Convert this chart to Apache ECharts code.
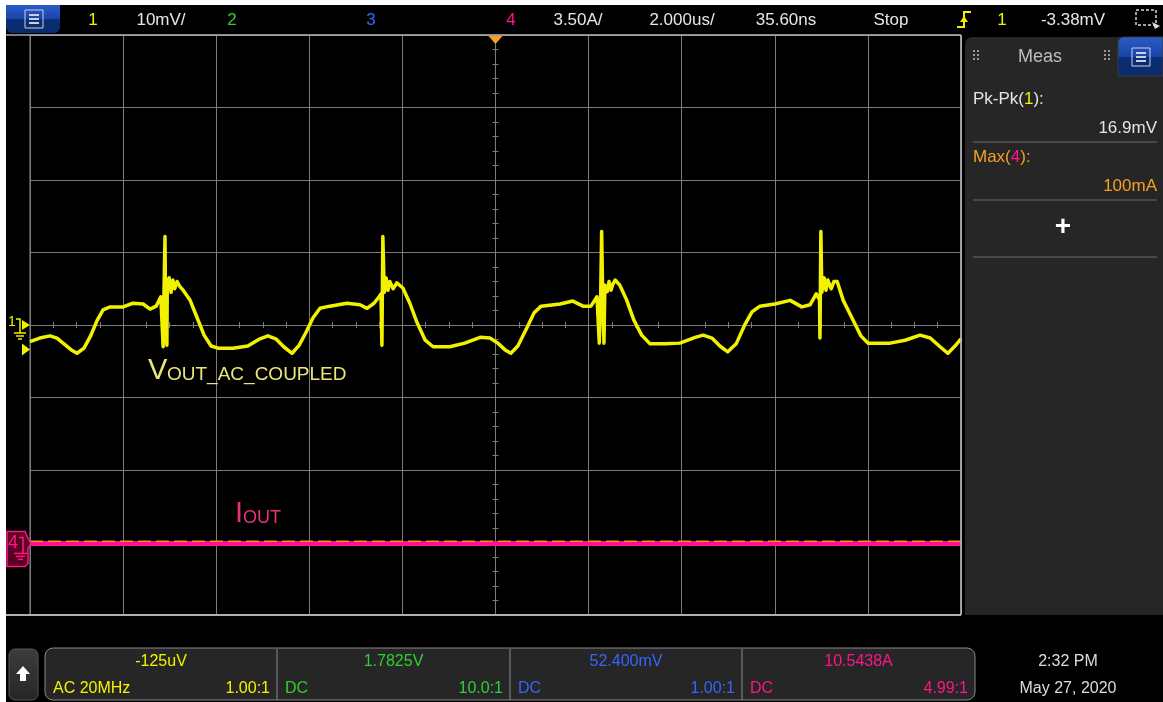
<!DOCTYPE html>
<html><head><meta charset="utf-8">
<script src="https://cdn.jsdelivr.net/npm/echarts@6/dist/echarts.min.js"></script>
<style>
html,body{margin:0;padding:0;background:#fff;overflow:hidden;}
#bg{position:absolute;left:6px;top:5px;width:1157px;height:697px;background:#000;}
#c{position:absolute;left:0;top:0;width:1163px;height:702px;}
</style>
</head><body><div id="bg"></div><div id="c"></div>
<script>
// ---- Channel 1 (VOUT, AC coupled), time in microseconds, value in mV ----
const timeUs = [
 -10.00,-9.79,-9.57,-9.42,-9.27,-9.12,-8.99,-8.84,-8.69,-8.56,-8.43,-8.28,-8.00,-7.79,-7.57,-7.42,-7.29,-7.19,
 -7.14,-7.12,-7.10,-7.09,-7.06,-7.05,-7.01,-6.97,-6.93,-6.89,-6.84,-6.78,-6.71,
 -6.56,-6.41,-6.26,-6.11,-5.96,-5.64,-5.32,-5.06,-4.89,-4.72,-4.55,-4.37,-4.22,-4.07,-3.92,-3.77,-3.56,-3.19,-2.91,-2.76,-2.61,-2.50,
 -2.46,-2.44,-2.42,-2.39,-2.35,-2.31,-2.27,-2.20,-2.12,-1.99,
 -1.84,-1.69,-1.51,-1.34,-0.98,-0.66,-0.33,-0.12,0.05,0.20,0.33,0.48,0.68,0.83,0.98,1.39,1.66,1.88,2.05,2.18,
 2.23,2.26,2.28,2.30,2.33,2.35,2.40,2.44,2.48,2.52,2.57,2.67,
 2.82,2.97,3.14,3.32,3.64,3.96,4.29,4.46,4.65,4.82,4.99,5.17,5.36,5.51,5.68,6.00,6.33,6.58,6.76,6.89,
 6.96,6.97,6.99,7.01,7.06,7.10,7.14,7.21,7.27,7.34,
 7.47,7.68,7.85,8.00,8.48,8.80,9.12,9.34,9.55,9.72,9.87,10.00];
const voutMv = [
 -2.3,-1.8,-1.5,-1.8,-2.6,-3.4,-3.9,-3.2,-1.4,0.6,2.1,2.5,2.5,3.0,2.9,2.2,2.6,3.9,
 -3.0,5.0,12.2,4.0,-2.8,6.0,6.5,4.5,6.2,5.0,6.0,5.3,4.8,
 3.4,1.0,-1.4,-2.9,-3.2,-3.2,-2.9,-1.9,-1.5,-1.9,-3.0,-3.9,-2.8,-1.0,1.0,2.3,2.6,3.0,2.8,2.3,3.0,3.9,
 4.3,-2.8,12.2,4.5,6.5,4.8,6.0,5.0,5.8,5.1,
 3.0,0.4,-2.1,-3.0,-3.0,-2.5,-1.7,-1.8,-2.5,-3.4,-3.9,-2.9,-0.3,1.7,2.6,2.9,3.3,2.6,2.6,3.9,
 -2.5,4.0,12.9,5.0,-2.5,5.5,4.6,6.0,4.8,5.6,6.2,5.5,
 3.4,0.7,-1.4,-2.6,-2.6,-2.5,-1.7,-1.4,-1.8,-2.9,-3.7,-2.6,0.1,1.8,2.6,2.9,3.4,2.5,2.8,4.3,
 3.5,-1.8,12.9,4.5,6.5,4.8,6.2,5.0,6.0,6.0,
 3.4,0.7,-1.5,-2.5,-2.5,-2.1,-1.4,-1.8,-3.0,-3.9,-2.9,-1.9];
// ---- Channel 4 (IOUT), time in microseconds, value in A ----
const ioutTimeUs = [-10,-9.3,-9.28,-7.3,-7.28,-5.4,-5.38,-2.4,-2.38,0.6,0.62,2.3,2.32,4.9,4.92,7.0,7.02,10];
const ioutA = [0,0,-0.07,0,-0.07,0,0.07,0,-0.07,0,0.07,0,-0.07,0,-0.07,0,0.07,0];
// ---- scope settings / readouts ----
const timePerDivUs = 2, hDivs = 10;
const ch1PerDivMv = 10, vDivs = 8;
const ch4PerDivA = 3.5, ch4OffsetA = 10.5438;
const triggerLevelMv = -3.38;
const ch4MaxA = 0.100;
const topBarLabels = ['1','10mV/','2','3','4','3.50A/','2.000us/','35.60ns','Stop','1','-3.38mV'];
const measLabels = ['Pk-Pk(1):','16.9mV','Max(4):','100mA'];
const chanOffsets = ['-125uV','1.7825V','52.400mV','10.5438A'];
const chanCoupling = ['AC 20MHz','DC','DC','DC'];
const chanProbe = ['1.00:1','10.0:1','1.00:1','4.99:1'];
const dateLabels = ['2:32 PM','May 27, 2020'];

const FONT = "'Liberation Sans', Arial, sans-serif";
const GRID = '#7c7c7c';
const YEL = '#f2f200', GRN = '#2fd02f', BLU = '#3366ff', MAG = '#ff148c', ORG = '#f5a020';

const chart = echarts.init(document.getElementById('c'), null, {renderer:'canvas'});
const halfT = timePerDivUs*hDivs/2, halfV = ch1PerDivMv*vDivs/2, halfA = ch4PerDivA*vDivs/2;

function xAx(pos){
  return {type:'value', min:-halfT, max:halfT, interval:timePerDivUs, position:pos,
    axisLine:{show:true, onZero:true, onZeroAxisIndex:0, lineStyle:{color:GRID, width:1}},
    axisTick:{show:true, length:3, lineStyle:{color:GRID}},
    minorTick:{show:true, splitNumber:4, length:3, lineStyle:{color:GRID}},
    axisLabel:{show:false},
    splitLine:{show:pos==='bottom', lineStyle:{color:GRID, width:1}}};
}
function yAx(pos){
  return {type:'value', min:-halfV, max:halfV, interval:ch1PerDivMv, position:pos,
    axisLine:{show:true, onZero:true, onZeroAxisIndex:0, lineStyle:{color:GRID, width:1}},
    axisTick:{show:true, length:3, lineStyle:{color:GRID}},
    minorTick:{show:true, splitNumber:5, length:3, lineStyle:{color:GRID}},
    axisLabel:{show:false},
    splitLine:{show:pos==='left', lineStyle:{color:GRID, width:1}}};
}

chart.setOption({
  animation:false,
  backgroundColor:'transparent',
  grid:{left:30, top:35, width:931, height:580, show:true, borderColor:'#8c8c8c', borderWidth:1, backgroundColor:'#000'},
  xAxis:[xAx('bottom'), xAx('top')],
  yAxis:[yAx('left'), yAx('right'),
    {type:'value', min:ch4OffsetA-halfA, max:ch4OffsetA+halfA, show:false, axisLine:{onZero:false}, splitLine:{show:false}}],
  series:[
    {type:'line', name:'IOUT', xAxisIndex:0, yAxisIndex:2, showSymbol:false, symbol:'none', z:3,
     data: ioutTimeUs.map((t,i)=>[t, ioutA[i]]), lineStyle:{color:MAG, width:5}},
    {type:'line', name:'Max(4)', xAxisIndex:0, yAxisIndex:2, showSymbol:false, symbol:'none', z:4,
     data:[[-halfT, ch4MaxA],[halfT, ch4MaxA]], lineStyle:{color:'#ff8a1a', width:1.5, type:[13,5]}},
    {type:'line', name:'VOUT', xAxisIndex:0, yAxisIndex:0, showSymbol:false, symbol:'none', z:5, sampling:null,
     data: timeUs.map((t,i)=>[t, voutMv[i]]), lineStyle:{color:YEL, width:3.5, join:'round'}}
  ]
});

// pixel anchors computed by the library's own scales
const yZero1 = chart.convertToPixel({yAxisIndex:0}, 0);
const yTrig = chart.convertToPixel({yAxisIndex:0}, triggerLevelMv);
const yZero4 = chart.convertToPixel({yAxisIndex:2}, 0);
const xTrig = chart.convertToPixel({xAxisIndex:0}, 0);

function txt(text, x, y, fill, size, align, extra){
  return Object.assign({type:'text', x:x, y:y, z:100, silent:true,
    style:{text:text, fill:fill, font:(size||17)+'px '+FONT, align:align||'center', verticalAlign:'middle',
      textAlign:align||'center', textVerticalAlign:'middle'}}, extra||{});
}
function line(x1,y1,x2,y2,stroke,w,extra){
  return {type:'line', z:100, silent:true, shape:{x1,y1,x2,y2}, style:Object.assign({stroke:stroke, lineWidth:w||1}, extra||{})};
}
function rect(x,y,w,h,fill,stroke,r,extra){
  return Object.assign({type:'rect', z:95, silent:true, shape:{x,y,width:w,height:h,r:r||0}, style:{fill:fill, stroke:stroke||null, lineWidth:1}}, extra||{});
}
function menuIcon(cx, cy){
  return [
    rect(cx-9, cy-9, 18, 18, null, '#c8d0e0', 0, {z:101}),
    line(cx-5, cy-4, cx+5, cy-4, '#c8d0e0', 2),
    line(cx-5, cy, cx+5, cy, '#c8d0e0', 2),
    line(cx-5, cy+4, cx+5, cy+4, '#c8d0e0', 2)
  ];
}
function dots(x, y){
  const out=[];
  for(let r=0;r<3;r++) for(let c=0;c<2;c++) out.push(rect(x+c*4, y+r*4, 2, 2, '#9a9a9a', null, 0, {z:101}));
  return out;
}
const blueGrad = {type:'linear', x:0, y:0, x2:0, y2:1, colorStops:[{offset:0,color:'#2a5cc8'},{offset:0.5,color:'#1a44a8'},{offset:0.52,color:'#0c2d74'},{offset:1,color:'#0a2a6a'}]};

const g = [];
// top bar
g.push(rect(6, 5, 54, 28, blueGrad, null, [0,0,6,6]));
g.push(...menuIcon(34, 19));
const topX = [93,161,232,371,511,578,682,786,891,1002,1073];
const topC = [YEL,'#e6e6e6',GRN,BLU,MAG,'#e6e6e6','#e6e6e6','#e6e6e6','#e6e6e6',YEL,'#e6e6e6'];
topBarLabels.forEach((s,i)=>g.push(txt(s, topX[i], 20, topC[i], 17)));
// trigger edge icon
g.push({type:'polyline', z:100, silent:true, shape:{points:[[957,27],[964,27],[964,12],[971,12]]}, style:{stroke:YEL, lineWidth:2, fill:null}});
g.push({type:'polygon', z:100, silent:true, shape:{points:[[960,22],[968,22],[964,16]]}, style:{fill:YEL}});
// zoom box icon
g.push(rect(1136, 10, 20, 15, null, '#d8d8d8', 0, {z:100, style:{fill:null, stroke:'#d8d8d8', lineWidth:1.5, lineDash:[3,2]}}));
g.push({type:'polygon', z:101, silent:true, shape:{points:[[1152,22],[1160,26],[1155,29]]}, style:{fill:'#d8d8d8'}});

// frame lines
g.push(line(6, 35, 961, 35, '#a8a8a8', 1.5));
g.push(line(6, 615, 961, 615, '#b0b0b0', 2));
g.push(line(961, 35, 961, 615, '#b8b8b8', 1.5));
// trigger position marker
g.push({type:'polygon', z:100, silent:true, shape:{points:[[xTrig-7,36],[xTrig+7,36],[xTrig,44]]}, style:{fill:ORG}});

// channel 1 marker and trigger level marker
g.push(txt('1', 12, yZero1-3, YEL, 14));
g.push({type:'polyline', z:100, silent:true, shape:{points:[[16,yZero1-6],[20,yZero1-6],[20,yZero1+8]]}, style:{stroke:YEL, lineWidth:1.5, fill:null}});
g.push(line(14, yZero1+8, 26, yZero1+8, YEL, 1.5));
g.push(line(16, yZero1+11, 24, yZero1+11, YEL, 1.5));
g.push(line(18, yZero1+14, 22, yZero1+14, YEL, 1.5));
g.push({type:'polygon', z:100, silent:true, shape:{points:[[22,yZero1-5],[30,yZero1],[22,yZero1+5]]}, style:{fill:YEL}});
g.push({type:'polygon', z:100, silent:true, shape:{points:[[22,yTrig-6],[30,yTrig],[22,yTrig+6]]}, style:{fill:YEL}});

// channel 4 marker
g.push({type:'polygon', z:100, silent:true, shape:{points:[[7,yZero4-12],[25,yZero4-12],[28,yZero4-5],[31,yZero4],[28,yZero4+5],[28,yZero4+20],[25,yZero4+23],[7,yZero4+23]]}, style:{fill:'#5a0020', stroke:MAG, lineWidth:1.5}});
g.push(txt('4', 13, yZero4, MAG, 18));
g.push({type:'polyline', z:101, silent:true, shape:{points:[[19,yZero4-6],[23,yZero4-6],[23,yZero4+10]]}, style:{stroke:MAG, lineWidth:1.5, fill:null}});
g.push(line(14, yZero4+10, 27, yZero4+10, MAG, 1.5));
g.push(line(16, yZero4+13, 25, yZero4+13, MAG, 1.5));
g.push(line(18, yZero4+16, 23, yZero4+16, MAG, 1.5));

// trace annotations
g.push(txt('V', 148, 371, '#ece67a', 29, 'left'));
g.push(txt('OUT_AC_COUPLED', 167, 375, '#ece67a', 19, 'left'));
g.push(txt('I', 235, 514, '#e8307e', 29, 'left'));
g.push(txt('OUT', 243, 518, '#e8307e', 18, 'left'));

// right measurement panel
g.push(rect(965, 37, 198, 578, '#262626', null, [7,0,0,0]));
g.push(rect(1118, 37, 45, 39, blueGrad, '#3a3a3a', [6,0,0,0]));
g.push(...menuIcon(1141, 57));
g.push(...dots(973, 50));
g.push(...dots(1104, 50));
g.push(txt('Meas', 1040, 57, '#bdbdbd', 18));
g.push({type:'text', x:973, y:99, z:100, silent:true, style:{text:'{w|Pk-Pk(}{y|1}{w|):}', font:'17px '+FONT, align:'left', verticalAlign:'middle', textAlign:'left', textVerticalAlign:'middle',
  rich:{w:{fill:'#e4e4e4', color:'#e4e4e4', font:'17px '+FONT}, y:{fill:YEL, color:YEL, font:'17px '+FONT}}}});
g.push(txt(measLabels[1], 1157, 128, '#e4e4e4', 17, 'right'));
g.push(line(973, 142, 1157, 142, '#555', 1.5));
g.push({type:'text', x:973, y:157, z:100, silent:true, style:{text:'{o|Max(}{m|4}{o|):}', font:'17px '+FONT, align:'left', verticalAlign:'middle', textAlign:'left', textVerticalAlign:'middle',
  rich:{o:{fill:ORG, color:ORG, font:'17px '+FONT}, m:{fill:MAG, color:MAG, font:'17px '+FONT}}}});
g.push(txt(measLabels[3], 1157, 186, ORG, 17, 'right'));
g.push(line(973, 200, 1157, 200, '#555', 1.5));
g.push(txt('+', 1063, 227, '#ffffff', 28, 'center', {style:{text:'+', fill:'#fff', font:'bold 28px '+FONT, align:'center', verticalAlign:'middle', textAlign:'center', textVerticalAlign:'middle'}}));
g.push(line(973, 257, 1157, 257, '#555', 1.5));

// bottom bar
g.push(rect(9, 649, 29, 51, {type:'linear',x:0,y:0,x2:0,y2:1,colorStops:[{offset:0,color:'#3c3c3c'},{offset:1,color:'#262626'}]}, '#555', 6));
g.push({type:'polygon', z:101, silent:true, shape:{points:[[23,666],[30,674],[26,674],[26,681],[20,681],[20,674],[16,674]]}, style:{fill:'#fff'}});
g.push(rect(45, 648, 930, 52, '#262626', '#8a8a8a', 8));
[277,510,742].forEach(x=>g.push(line(x, 649, x, 700, '#8a8a8a', 1)));
const chCol = [YEL, GRN, BLU, MAG];
const secL = [45,277,510,742], secR = [277,510,742,975];
chanOffsets.forEach((s,i)=>{
  const cx=(secL[i]+secR[i])/2;
  g.push(txt(s, cx, 662, chCol[i], 16));
  g.push(txt(chanCoupling[i], secL[i]+8, 689, chCol[i], 16, 'left'));
  g.push(txt(chanProbe[i], secR[i]-7, 689, chCol[i], 16, 'right'));
});
g.push(txt(dateLabels[0], 1068, 662, '#dcdcdc', 16));
g.push(txt(dateLabels[1], 1068, 689, '#dcdcdc', 16));

chart.setOption({graphic: g});
</script>
</body></html>
